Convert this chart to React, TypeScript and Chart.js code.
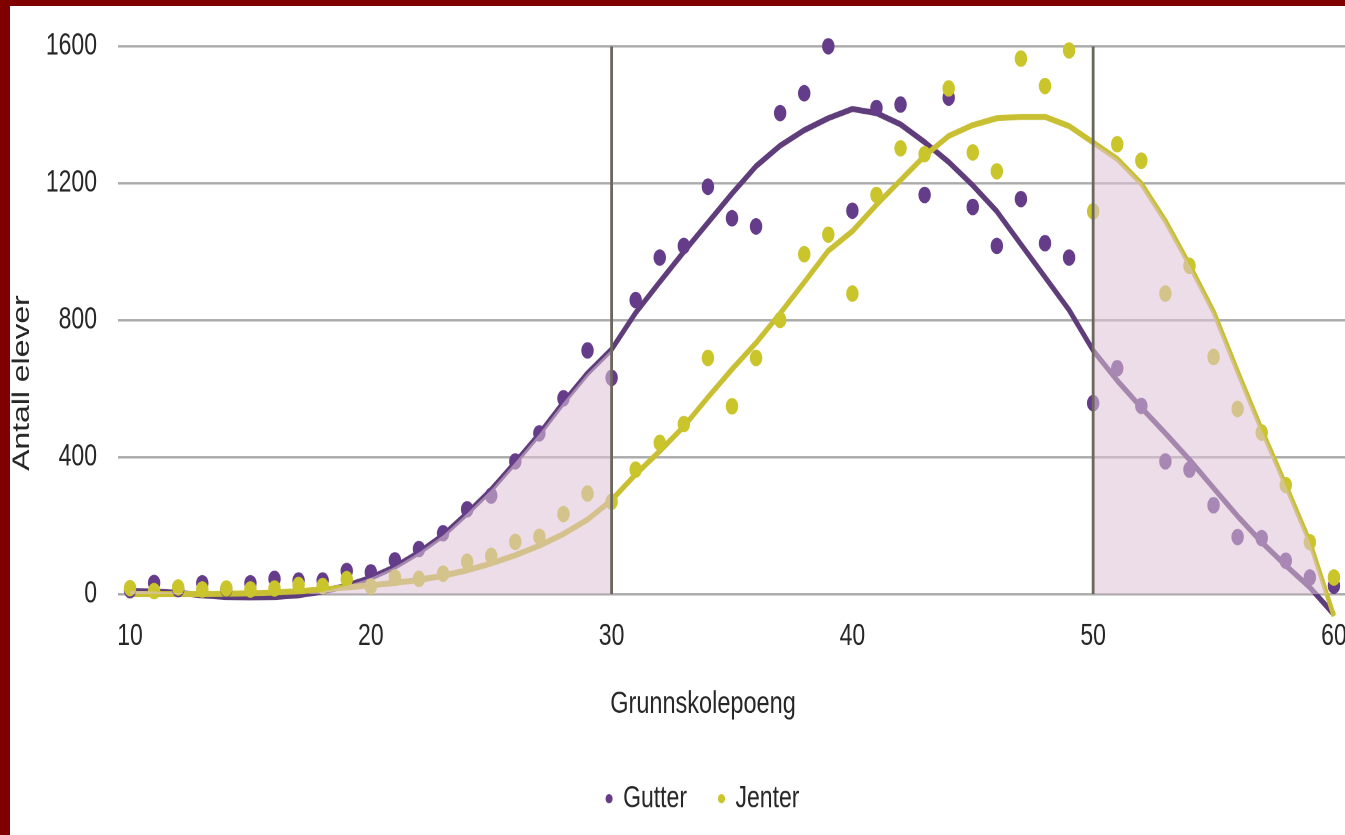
import React, { useEffect, useRef } from 'react';
import { Chart, registerables } from 'chart.js';

Chart.register(...registerables);

// ---- data ----
const scores = [
  10, 11, 12, 13, 14, 15, 16, 17, 18, 19,
  20, 21, 22, 23, 24, 25, 26, 27, 28, 29,
  30, 31, 32, 33, 34, 35, 36, 37, 38, 39,
  40, 41, 42, 43, 44, 45, 46, 47, 48, 49,
  50, 51, 52, 53, 54, 55, 56, 57, 58, 59, 60,
];

const gutterCounts = [
  12, 33, 15, 32, 15, 32, 45, 40, 40, 68,
  64, 99, 132, 178, 248, 288, 388, 470, 572, 712,
  632, 859, 983, 1017, 1190, 1098, 1074, 1405, 1463, 1600,
  1120, 1420, 1430, 1166, 1450, 1131, 1017, 1154, 1025, 983,
  558, 660, 550, 388, 364, 260, 167, 164, 98, 49, 25,
];

const jenterCounts = [
  18, 9, 20, 14, 17, 14, 17, 27, 24, 44,
  23, 49, 45, 60, 95, 112, 153, 168, 234, 294,
  270, 364, 442, 497, 690, 549, 690, 801, 993, 1050,
  878, 1166, 1302, 1285, 1477, 1290, 1235, 1564, 1484, 1588,
  1118, 1314, 1266, 878, 959, 693, 541, 472, 319, 152, 49,
];

const gutterTrend = [
  10, 8, 4, -3, -8, -9, -8, -3, 8, 25,
  48, 80, 122, 172, 236, 305, 385, 468, 560, 645,
  715, 822, 912, 1000, 1085, 1170, 1250, 1310, 1355, 1390,
  1417, 1405, 1372, 1320, 1262, 1194, 1118, 1022, 926, 830,
  712, 624, 545, 470, 393, 310, 228, 152, 84, 20, -59,
];

const jenterTrend = [
  0, 0, 0, 0, 1, 3, 5, 9, 14, 20,
  26, 33, 42, 54, 70, 90, 114, 142, 176, 218,
  275, 350, 418, 490, 575, 657, 734, 820, 911, 1003,
  1060, 1137, 1209, 1280, 1338, 1370, 1390, 1394, 1394, 1367,
  1319, 1271, 1199, 1090, 962, 825, 650, 480, 318, 152, -64,
];

const yTickValues = [0, 400, 800, 1200, 1600];
const xTickValues = [10, 20, 30, 40, 50, 60];
const markerScores = [30, 50];
const seriesNames = ['Gutter', 'Jenter'];
const xTitle = 'Grunnskolepoeng';
const yTitle = 'Antall elever';

// ---- styling ----
const FONT = '"Liberation Sans", Arial, Helvetica, sans-serif';
const STRETCH = 1.33;
const purpleDot = '#653c8a';
const purpleLine = '#5f3d7b';
const yellowDot = '#c9c52b';
const yellowLine = '#c8c032';
const shade = 'rgba(221,194,214,0.56)';
const markerColor = '#6b665e';
const gridColor = '#ababab';
const textColor = '#262626';

const pts = (ys: number[]) => scores.map((x, i) => ({ x, y: ys[i] }));

export default function App() {
  const ref = useRef<HTMLCanvasElement>(null);

  useEffect(() => {
    if (!ref.current) return;
    const yMax = yTickValues[yTickValues.length - 1];
    const yMin = yTickValues[0];

    const shadeLow = scores
      .map((x, i) => ({ x, y: gutterTrend[i] }))
      .filter((p) => p.x <= markerScores[0]);
    const shadeHigh = scores
      .map((x, i) => ({ x, y: jenterTrend[i] }))
      .filter((p) => p.x >= markerScores[1]);

    const yTitlePlugin = {
      id: 'yTitleRotated',
      afterDraw(chart: any) {
        const ctx = chart.ctx;
        ctx.save();
        ctx.translate(12.5, 288);
        ctx.rotate(-Math.PI / 2);
        ctx.font = `24px ${FONT}`;
        ctx.fillStyle = textColor;
        ctx.textAlign = 'center';
        ctx.textBaseline = 'middle';
        ctx.fillText(yTitle, 0, 0);
        ctx.restore();
      },
    };

    const chart = new Chart(ref.current, {
      type: 'line',
      data: {
        datasets: [
          {
            label: seriesNames[0],
            data: pts(gutterCounts),
            showLine: false,
            pointRadius: 6.2,
            pointBackgroundColor: purpleDot,
            pointBorderColor: purpleDot,
            pointBorderWidth: 0,
            backgroundColor: purpleDot,
            borderColor: purpleDot,
            borderWidth: 0,
            order: 6,
            clip: false,
          },
          {
            label: seriesNames[1],
            data: pts(jenterCounts),
            showLine: false,
            pointRadius: 6.2,
            pointBackgroundColor: yellowDot,
            pointBorderColor: yellowDot,
            pointBorderWidth: 0,
            backgroundColor: yellowDot,
            borderColor: yellowDot,
            borderWidth: 0,
            order: 5,
            clip: false,
          },
          {
            label: 'trend-g',
            data: pts(gutterTrend),
            borderColor: purpleLine,
            borderWidth: 4.5,
            pointRadius: 0,
            tension: 0,
            fill: false,
            borderJoinStyle: 'round',
            order: 8,
            clip: false,
          },
          {
            label: 'trend-j',
            data: pts(jenterTrend),
            borderColor: yellowLine,
            borderWidth: 4.5,
            pointRadius: 0,
            tension: 0,
            fill: false,
            borderJoinStyle: 'round',
            order: 7,
            clip: false,
          },
          {
            label: 'shade-low',
            data: shadeLow,
            borderWidth: 0,
            borderColor: 'rgba(0,0,0,0)',
            pointRadius: 0,
            fill: 'origin',
            backgroundColor: shade,
            order: 2,
          },
          {
            label: 'shade-high',
            data: shadeHigh,
            borderWidth: 0,
            borderColor: 'rgba(0,0,0,0)',
            pointRadius: 0,
            fill: 'origin',
            backgroundColor: shade,
            order: 2,
          },
          ...markerScores.map((m) => ({
            label: 'marker',
            data: [
              { x: m, y: yMin },
              { x: m, y: yMax },
            ],
            borderColor: markerColor,
            borderWidth: 2.8,
            pointRadius: 0,
            fill: false,
            order: 1,
          })),
        ] as any,
      },
      options: {
        animation: false,
        responsive: true,
        maintainAspectRatio: false,
        devicePixelRatio: 2,
        events: [],
        layout: { padding: { top: 34.2, left: 0, right: 0, bottom: 0 } },
        scales: {
          x: {
            type: 'linear',
            min: 9.5,
            max: 62.32,
            afterBuildTicks: (scale: any) => {
              scale.ticks = xTickValues.map((v) => ({ value: v }));
            },
            grid: { display: false, drawTicks: false },
            border: { display: false },
            ticks: {
              padding: 18,
              color: textColor,
              font: { family: FONT, size: 23 },
              callback: (v: any) => String(v),
            },
          },
          y: {
            type: 'linear',
            min: yMin,
            max: yMax,
            afterBuildTicks: (scale: any) => {
              scale.ticks = yTickValues.map((v) => ({ value: v }));
            },
            afterFit: (scale: any) => {
              scale.width = 108;
            },
            grid: { color: gridColor, lineWidth: 1.8, drawTicks: false },
            border: { display: false },
            ticks: {
              padding: 21,
              color: textColor,
              font: { family: FONT, size: 23 },
              callback: (v: any) => String(v),
            },
          },
        },
        plugins: {
          tooltip: { enabled: false },
          title: {
            display: true,
            text: xTitle,
            position: 'bottom',
            weight: 500,
            color: textColor,
            font: { family: FONT, size: 23.5, weight: 'normal' },
            padding: { top: 5, bottom: 13.4 },
          } as any,
          legend: {
            display: true,
            position: 'bottom',
            labels: {
              filter: (item: any) => seriesNames.includes(item.text),
              sort: (a: any, b: any) => a.datasetIndex - b.datasetIndex,
              usePointStyle: true,
              boxWidth: 5,
              boxHeight: 5,
              padding: 32,
              color: textColor,
              font: { family: FONT, size: 23 },
            },
          },
        },
      } as any,
      plugins: [yTitlePlugin],
    });
    return () => chart.destroy();
  }, []);

  return (
    <div style={{ position: 'fixed', left: 0, top: 0, width: '100vw', height: '100vh', background: '#fff', overflow: 'hidden' }}>
      <div
        style={{
          position: 'absolute',
          left: 10,
          top: 0,
          width: 1386,
          height: 622,
          transform: `scaleY(${STRETCH})`,
          transformOrigin: '0 0',
        }}
      >
        <canvas ref={ref} />
      </div>
      <div style={{ position: 'absolute', left: 0, top: 0, width: '100%', height: 6, background: '#800000' }} />
      <div style={{ position: 'absolute', left: 0, top: 0, width: 10, height: '100%', background: '#800000' }} />
    </div>
  );
}
